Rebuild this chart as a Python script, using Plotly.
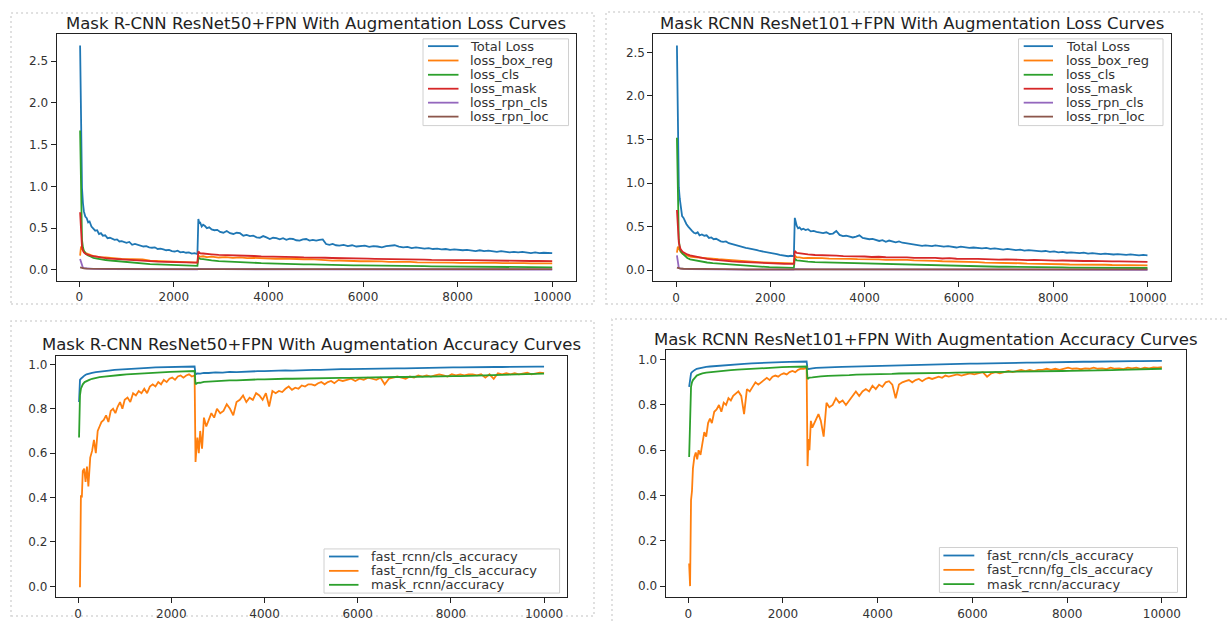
import plotly.graph_objects as go

FIG_W, FIG_H = 1230, 621
FONT = "DejaVu Sans"

# ---------------------------------------------------------------------------
# Iteration grids (logged steps); training restarts from a checkpoint at 2500
# ---------------------------------------------------------------------------
ITER_FINE_A = [19, 39, 59, 79, 99, 129, 159, 189, 219, 259,
               299, 339, 379, 419, 459, 499, 549, 599, 649, 699,
               749, 799, 849, 899, 949, 999, 1059, 1119, 1179, 1239,
               1299, 1359, 1419, 1479, 1539, 1599, 1659, 1719, 1779, 1839,
               1899, 1959, 2019, 2079, 2139, 2199, 2259, 2319, 2379, 2439,
               2499]
ITER_FINE_B = [2519, 2539, 2559, 2589, 2619, 2659, 2699, 2749, 2799, 2859,
               2919, 2979, 3049, 3119, 3189, 3259, 3329, 3399, 3469, 3539,
               3609, 3679, 3749, 3819, 3889, 3959, 4029, 4099, 4169, 4239,
               4309, 4379, 4449, 4519, 4589, 4659, 4729, 4799, 4869, 4939,
               5009, 5079, 5149, 5219, 5289, 5359, 5429, 5499, 5589, 5679,
               5769, 5859, 5949, 6039, 6129, 6219, 6309, 6399, 6489, 6579,
               6669, 6759, 6849, 6939, 7029, 7119, 7209, 7299, 7389, 7479,
               7569, 7659, 7749, 7839, 7929, 8019, 8109, 8199, 8289, 8379,
               8469, 8559, 8649, 8739, 8829, 8919, 9009, 9099, 9189, 9279,
               9369, 9459, 9549, 9639, 9729, 9819, 9909, 9999]
ITER_MED_A = [19, 39, 59, 79, 99, 139, 179, 239, 299, 379,
              459, 559, 659, 779, 899, 1039, 1179, 1339, 1499, 1659,
              1819, 1979, 2139, 2299, 2499]
ITER_MED_B = [2519, 2559, 2619, 2699, 2799, 2949, 3099, 3249, 3399, 3549,
              3699, 3849, 3999, 4149, 4299, 4449, 4599, 4749, 4899, 5049,
              5199, 5349, 5499, 5649, 5799, 5949, 6099, 6249, 6399, 6549,
              6699, 6849, 6999, 7149, 7299, 7449, 7599, 7749, 7899, 8049,
              8199, 8349, 8499, 8649, 8799, 8949, 9099, 9249, 9399, 9549,
              9699, 9849, 9999]
ITER_RPN = [19, 39, 59, 79, 99, 159, 299, 599, 999, 1499, 2499,
            2519, 2999, 4999, 7499, 9999]

# ---------------------------------------------------------------------------
# ResNet50 + FPN losses
# ---------------------------------------------------------------------------
r50_total_a = [2.69, 1.62, 0.98, 0.80, 0.70, 0.64, 0.62, 0.57, 0.58, 0.52,
               0.50, 0.47, 0.475, 0.43, 0.44, 0.41, 0.415, 0.38, 0.385, 0.37,
               0.36, 0.365, 0.34, 0.345, 0.33, 0.325, 0.335, 0.30, 0.31, 0.30,
               0.29, 0.28, 0.285, 0.27, 0.265, 0.27, 0.25, 0.255, 0.245, 0.235,
               0.24, 0.225, 0.22, 0.23, 0.21, 0.215, 0.205, 0.21, 0.195, 0.20,
               0.19]
r50_total_b = [0.61, 0.56, 0.565, 0.52, 0.54, 0.525, 0.50, 0.51, 0.485, 0.475,
               0.48, 0.455, 0.445, 0.465, 0.44, 0.43, 0.445, 0.44, 0.41, 0.42,
               0.405, 0.41, 0.39, 0.385, 0.405, 0.39, 0.37, 0.385, 0.38, 0.365,
               0.38, 0.36, 0.375, 0.37, 0.355, 0.35, 0.365, 0.37, 0.35, 0.36,
               0.35, 0.36, 0.365, 0.31, 0.30, 0.31, 0.295, 0.29, 0.30, 0.285,
               0.295, 0.28, 0.285, 0.29, 0.275, 0.285, 0.28, 0.27, 0.285, 0.29,
               0.295, 0.28, 0.27, 0.275, 0.26, 0.27, 0.265, 0.255, 0.26, 0.25,
               0.255, 0.245, 0.25, 0.24, 0.245, 0.24, 0.235, 0.24, 0.23, 0.225,
               0.235, 0.225, 0.23, 0.22, 0.215, 0.225, 0.22, 0.21, 0.215, 0.21,
               0.215, 0.205, 0.20, 0.21, 0.20, 0.205, 0.20, 0.20]
r50_box_a = [0.17, 0.28, 0.26, 0.23, 0.22, 0.20, 0.19, 0.175, 0.165, 0.16,
             0.15, 0.148, 0.14, 0.137, 0.13, 0.128, 0.12, 0.124, 0.11, 0.107,
             0.10, 0.097, 0.093, 0.091, 0.088]
r50_box_b = [0.17, 0.158, 0.163, 0.152, 0.158, 0.148, 0.152, 0.144, 0.149, 0.14,
             0.143, 0.138, 0.14, 0.133, 0.136, 0.13, 0.131, 0.127, 0.128, 0.121,
             0.116, 0.111, 0.112, 0.106, 0.108, 0.103, 0.105, 0.099, 0.101, 0.097,
             0.098, 0.094, 0.095, 0.091, 0.092, 0.089, 0.09, 0.087, 0.088, 0.085,
             0.086, 0.083, 0.085, 0.081, 0.083, 0.08, 0.082, 0.079, 0.08, 0.078,
             0.079, 0.077, 0.077]
r50_cls_a = [1.67, 0.72, 0.36, 0.27, 0.23, 0.195, 0.175, 0.16, 0.145, 0.135,
             0.125, 0.118, 0.112, 0.105, 0.097, 0.09, 0.083, 0.077, 0.07, 0.065,
             0.06, 0.056, 0.053, 0.05, 0.048]
r50_cls_b = [0.15, 0.132, 0.128, 0.118, 0.114, 0.105, 0.1, 0.094, 0.091, 0.087,
             0.085, 0.081, 0.079, 0.075, 0.074, 0.07, 0.069, 0.066, 0.065, 0.062,
             0.061, 0.059, 0.058, 0.056, 0.055, 0.053, 0.053, 0.051, 0.05, 0.049,
             0.048, 0.047, 0.046, 0.045, 0.044, 0.043, 0.042, 0.041, 0.041, 0.04,
             0.039, 0.038, 0.038, 0.037, 0.036, 0.035, 0.035, 0.034, 0.033, 0.032,
             0.032, 0.031, 0.03]
r50_mask_a = [0.69, 0.42, 0.27, 0.23, 0.21, 0.19, 0.18, 0.17, 0.165, 0.155,
              0.15, 0.14, 0.135, 0.13, 0.125, 0.12, 0.115, 0.11, 0.105, 0.10,
              0.097, 0.095, 0.092, 0.09, 0.088]
r50_mask_b = [0.22, 0.198, 0.196, 0.188, 0.186, 0.179, 0.178, 0.171, 0.17, 0.166,
              0.166, 0.161, 0.161, 0.156, 0.158, 0.153, 0.153, 0.149, 0.15, 0.147,
              0.145, 0.142, 0.142, 0.137, 0.138, 0.134, 0.134, 0.131, 0.131, 0.128,
              0.128, 0.125, 0.126, 0.123, 0.123, 0.12, 0.121, 0.118, 0.118, 0.116,
              0.116, 0.114, 0.114, 0.112, 0.112, 0.11, 0.11, 0.108, 0.108, 0.106,
              0.106, 0.105, 0.105]
r50_rpn_cls = [0.13, 0.09, 0.04, 0.025, 0.02, 0.015, 0.012, 0.01, 0.008, 0.007, 0.006,
               0.012, 0.008, 0.006, 0.005, 0.004]
r50_rpn_loc = [0.03, 0.025, 0.022, 0.02, 0.018, 0.016, 0.014, 0.012, 0.011, 0.01, 0.009,
               0.014, 0.012, 0.01, 0.009, 0.008]

# ---------------------------------------------------------------------------
# ResNet101 + FPN losses
# ---------------------------------------------------------------------------
r101_total_a = [2.58, 1.45, 0.95, 0.82, 0.72, 0.62, 0.60, 0.56, 0.53, 0.50,
                0.47, 0.45, 0.43, 0.42, 0.435, 0.40, 0.41, 0.395, 0.40, 0.37,
                0.375, 0.355, 0.36, 0.34, 0.33, 0.325, 0.33, 0.31, 0.30, 0.295,
                0.28, 0.27, 0.265, 0.255, 0.25, 0.245, 0.235, 0.23, 0.22, 0.215,
                0.21, 0.20, 0.195, 0.19, 0.185, 0.175, 0.17, 0.165, 0.16, 0.165,
                0.16]
r101_total_b = [0.60, 0.54, 0.51, 0.48, 0.49, 0.465, 0.475, 0.46, 0.47, 0.445,
                0.45, 0.44, 0.43, 0.425, 0.435, 0.415, 0.42, 0.45, 0.405, 0.39,
                0.395, 0.385, 0.375, 0.385, 0.40, 0.37, 0.365, 0.355, 0.36, 0.345,
                0.335, 0.345, 0.325, 0.34, 0.33, 0.32, 0.33, 0.315, 0.31, 0.305,
                0.30, 0.295, 0.29, 0.28, 0.285, 0.28, 0.275, 0.285, 0.275, 0.27,
                0.275, 0.27, 0.26, 0.27, 0.265, 0.255, 0.26, 0.255, 0.25, 0.255,
                0.245, 0.25, 0.24, 0.235, 0.245, 0.235, 0.23, 0.235, 0.225, 0.23,
                0.225, 0.22, 0.215, 0.22, 0.21, 0.215, 0.205, 0.21, 0.20, 0.205,
                0.20, 0.195, 0.20, 0.19, 0.195, 0.19, 0.185, 0.19, 0.185, 0.18,
                0.185, 0.18, 0.175, 0.18, 0.175, 0.17, 0.175, 0.17]
r101_box_a = [0.20, 0.27, 0.25, 0.22, 0.21, 0.19, 0.18, 0.165, 0.155, 0.15,
              0.145, 0.142, 0.135, 0.132, 0.125, 0.122, 0.115, 0.11, 0.10, 0.096,
              0.09, 0.086, 0.082, 0.08, 0.078]
r101_box_b = [0.165, 0.148, 0.146, 0.139, 0.141, 0.135, 0.137, 0.132, 0.134, 0.128,
              0.13, 0.126, 0.127, 0.122, 0.124, 0.119, 0.12, 0.116, 0.117, 0.112,
              0.112, 0.107, 0.107, 0.102, 0.101, 0.097, 0.097, 0.092, 0.092, 0.087,
              0.087, 0.083, 0.083, 0.079, 0.079, 0.075, 0.075, 0.071, 0.071, 0.068,
              0.068, 0.065, 0.066, 0.063, 0.064, 0.061, 0.062, 0.059, 0.06, 0.057,
              0.058, 0.056, 0.056]
r101_cls_a = [1.52, 0.70, 0.35, 0.26, 0.22, 0.19, 0.165, 0.14, 0.125, 0.115,
              0.105, 0.095, 0.088, 0.08, 0.075, 0.068, 0.06, 0.055, 0.048, 0.042,
              0.038, 0.034, 0.031, 0.028, 0.027]
r101_cls_b = [0.13, 0.113, 0.109, 0.102, 0.099, 0.093, 0.091, 0.086, 0.084, 0.08,
              0.079, 0.075, 0.074, 0.07, 0.069, 0.065, 0.064, 0.061, 0.06, 0.057,
              0.056, 0.053, 0.052, 0.049, 0.049, 0.046, 0.046, 0.043, 0.043, 0.041,
              0.041, 0.039, 0.039, 0.037, 0.037, 0.035, 0.035, 0.033, 0.033, 0.031,
              0.031, 0.03, 0.03, 0.029, 0.029, 0.028, 0.028, 0.027, 0.027, 0.026,
              0.026, 0.025, 0.025]
r101_mask_a = [0.69, 0.50, 0.32, 0.27, 0.24, 0.21, 0.195, 0.18, 0.17, 0.16,
               0.15, 0.14, 0.13, 0.12, 0.112, 0.105, 0.10, 0.095, 0.09, 0.085,
               0.08, 0.078, 0.075, 0.073, 0.072]
r101_mask_b = [0.22, 0.198, 0.193, 0.184, 0.182, 0.174, 0.174, 0.167, 0.167, 0.161,
               0.162, 0.156, 0.157, 0.151, 0.154, 0.148, 0.15, 0.145, 0.147, 0.141,
               0.143, 0.138, 0.14, 0.134, 0.137, 0.131, 0.134, 0.129, 0.13, 0.125,
               0.127, 0.122, 0.124, 0.119, 0.12, 0.116, 0.117, 0.113, 0.114, 0.11,
               0.111, 0.107, 0.109, 0.105, 0.106, 0.102, 0.103, 0.1, 0.101, 0.098,
               0.099, 0.096, 0.095]
r101_rpn_cls = [0.17, 0.06, 0.025, 0.02, 0.017, 0.014, 0.011, 0.009, 0.008, 0.007, 0.006,
                0.011, 0.008, 0.006, 0.005, 0.004]
r101_rpn_loc = [0.03, 0.026, 0.022, 0.02, 0.018, 0.016, 0.014, 0.012, 0.011, 0.01, 0.009,
                0.013, 0.011, 0.01, 0.009, 0.008]

# ---------------------------------------------------------------------------
# ResNet50 + FPN accuracies
# ---------------------------------------------------------------------------
r50_cls_acc_a = [0.83, 0.93, 0.935, 0.94, 0.945, 0.95, 0.955, 0.96, 0.962, 0.965,
                 0.968, 0.97, 0.972, 0.975, 0.977, 0.978, 0.98, 0.982, 0.984, 0.986,
                 0.987, 0.988, 0.988, 0.989, 0.99]
r50_cls_acc_b = [0.955, 0.959, 0.958, 0.961, 0.961, 0.964, 0.963, 0.966, 0.965, 0.967,
                 0.967, 0.969, 0.969, 0.971, 0.97, 0.973, 0.972, 0.974, 0.973, 0.975,
                 0.975, 0.977, 0.976, 0.978, 0.978, 0.979, 0.979, 0.98, 0.98, 0.981,
                 0.981, 0.982, 0.982, 0.983, 0.983, 0.984, 0.984, 0.985, 0.985, 0.986,
                 0.986, 0.987, 0.987, 0.987, 0.988, 0.988, 0.988, 0.989, 0.989, 0.989,
                 0.99, 0.99, 0.99]
r50_fg_acc_a = [0.0, 0.0, 0.41, 0.40, 0.52, 0.53, 0.47, 0.54, 0.45, 0.58,
                0.61, 0.66, 0.60, 0.70, 0.72, 0.74, 0.75, 0.77, 0.74, 0.79,
                0.80, 0.78, 0.81, 0.83, 0.80, 0.84, 0.85, 0.83, 0.87, 0.86,
                0.88, 0.87, 0.89, 0.87, 0.90, 0.91, 0.90, 0.92, 0.91, 0.93,
                0.92, 0.935, 0.94, 0.93, 0.945, 0.95, 0.94, 0.95, 0.955, 0.945,
                0.95]
r50_fg_acc_b = [0.56, 0.62, 0.67, 0.60, 0.70, 0.62, 0.76, 0.72, 0.75, 0.78,
                0.76, 0.80, 0.78, 0.79, 0.82, 0.80, 0.77, 0.83, 0.84, 0.86,
                0.83, 0.85, 0.84, 0.87, 0.86, 0.84, 0.87, 0.81, 0.88, 0.87,
                0.88, 0.875, 0.89, 0.90, 0.885, 0.895, 0.89, 0.905, 0.90, 0.91,
                0.91, 0.905, 0.915, 0.92, 0.91, 0.92, 0.925, 0.915, 0.93, 0.925,
                0.93, 0.935, 0.925, 0.935, 0.93, 0.94, 0.935, 0.93, 0.94, 0.91,
                0.935, 0.94, 0.945, 0.94, 0.935, 0.945, 0.94, 0.95, 0.945, 0.95,
                0.945, 0.95, 0.955, 0.95, 0.945, 0.955, 0.95, 0.955, 0.95, 0.955,
                0.955, 0.95, 0.955, 0.94, 0.955, 0.935, 0.96, 0.955, 0.96, 0.955,
                0.96, 0.955, 0.96, 0.962, 0.955, 0.96, 0.963, 0.96]
r50_mask_acc_a = [0.67, 0.86, 0.89, 0.90, 0.91, 0.92, 0.925, 0.93, 0.935, 0.94,
                  0.942, 0.945, 0.948, 0.95, 0.952, 0.955, 0.957, 0.96, 0.962, 0.963,
                  0.965, 0.966, 0.967, 0.968, 0.97]
r50_mask_acc_b = [0.91, 0.916, 0.917, 0.921, 0.922, 0.925, 0.925, 0.928, 0.928, 0.93,
                  0.931, 0.932, 0.932, 0.934, 0.934, 0.935, 0.935, 0.936, 0.936, 0.937,
                  0.937, 0.938, 0.938, 0.939, 0.939, 0.94, 0.94, 0.941, 0.941, 0.942,
                  0.942, 0.943, 0.943, 0.944, 0.944, 0.945, 0.945, 0.946, 0.946, 0.947,
                  0.947, 0.948, 0.949, 0.95, 0.95, 0.951, 0.952, 0.953, 0.954, 0.955,
                  0.956, 0.957, 0.958]

# ---------------------------------------------------------------------------
# ResNet101 + FPN accuracies
# ---------------------------------------------------------------------------
r101_cls_acc_a = [0.88, 0.92, 0.94, 0.945, 0.95, 0.955, 0.96, 0.963, 0.966, 0.968,
                  0.97, 0.972, 0.974, 0.976, 0.978, 0.98, 0.982, 0.984, 0.986, 0.987,
                  0.988, 0.989, 0.99, 0.991, 0.992]
r101_cls_acc_b = [0.958, 0.961, 0.962, 0.964, 0.964, 0.966, 0.967, 0.968, 0.969, 0.97,
                  0.971, 0.972, 0.973, 0.974, 0.975, 0.976, 0.976, 0.977, 0.978, 0.979,
                  0.979, 0.98, 0.981, 0.982, 0.982, 0.983, 0.983, 0.984, 0.984, 0.985,
                  0.985, 0.986, 0.986, 0.987, 0.987, 0.988, 0.988, 0.989, 0.989, 0.99,
                  0.99, 0.991, 0.991, 0.992, 0.992, 0.993, 0.993, 0.993, 0.994, 0.994,
                  0.994, 0.995, 0.995]
r101_fg_acc_a = [0.10, 0.0, 0.38, 0.42, 0.52, 0.57, 0.59, 0.56, 0.60, 0.58,
                 0.63, 0.68, 0.66, 0.72, 0.74, 0.72, 0.77, 0.78, 0.80, 0.77,
                 0.81, 0.80, 0.83, 0.82, 0.84, 0.85, 0.86, 0.84, 0.76, 0.87,
                 0.86, 0.88, 0.90, 0.89, 0.90, 0.91, 0.92, 0.91, 0.925, 0.93,
                 0.925, 0.935, 0.94, 0.935, 0.945, 0.95, 0.945, 0.955, 0.96, 0.96,
                 0.965]
r101_fg_acc_b = [0.53, 0.65, 0.60, 0.73, 0.70, 0.72, 0.74, 0.76, 0.73, 0.66,
                 0.81, 0.79, 0.80, 0.83, 0.81, 0.82, 0.80, 0.82, 0.84, 0.86,
                 0.84, 0.86, 0.87, 0.86, 0.885, 0.87, 0.89, 0.88, 0.90, 0.905,
                 0.89, 0.83, 0.89, 0.90, 0.905, 0.91, 0.90, 0.91, 0.915, 0.905,
                 0.915, 0.92, 0.915, 0.92, 0.925, 0.92, 0.93, 0.925, 0.93, 0.935,
                 0.93, 0.935, 0.94, 0.935, 0.94, 0.945, 0.925, 0.94, 0.945, 0.94,
                 0.945, 0.95, 0.945, 0.95, 0.955, 0.95, 0.955, 0.95, 0.955, 0.955,
                 0.96, 0.955, 0.96, 0.955, 0.96, 0.965, 0.96, 0.962, 0.958, 0.962,
                 0.96, 0.965, 0.96, 0.962, 0.958, 0.965, 0.96, 0.962, 0.958, 0.965,
                 0.962, 0.965, 0.96, 0.965, 0.962, 0.966, 0.965, 0.967]
r101_mask_acc_a = [0.57, 0.78, 0.88, 0.90, 0.91, 0.92, 0.93, 0.935, 0.94, 0.943,
                   0.945, 0.947, 0.95, 0.952, 0.954, 0.956, 0.958, 0.96, 0.962, 0.964,
                   0.966, 0.967, 0.968, 0.969, 0.97]
r101_mask_acc_b = [0.915, 0.921, 0.922, 0.925, 0.926, 0.929, 0.929, 0.932, 0.932, 0.934,
                   0.934, 0.936, 0.936, 0.937, 0.937, 0.939, 0.939, 0.94, 0.94, 0.941,
                   0.941, 0.942, 0.942, 0.943, 0.943, 0.944, 0.944, 0.945, 0.945, 0.946,
                   0.946, 0.947, 0.947, 0.948, 0.948, 0.949, 0.949, 0.95, 0.95, 0.951,
                   0.951, 0.952, 0.953, 0.953, 0.954, 0.954, 0.955, 0.956, 0.957, 0.957,
                   0.958, 0.959, 0.96]

X_TICKS = [0, 2000, 4000, 6000, 8000, 10000]
LOSS_TICKS = [0.0, 0.5, 1.0, 1.5, 2.0, 2.5]
ACC_TICKS = [0.0, 0.2, 0.4, 0.6, 0.8, 1.0]

BLUE, ORANGE, GREEN, RED, PURPLE, BROWN = (
    "#1f77b4", "#ff7f0e", "#2ca02c", "#d62728", "#9467bd", "#8c564b")

fine = ITER_FINE_A + ITER_FINE_B
med = ITER_MED_A + ITER_MED_B

panels = [
    dict(
        title="Mask R-CNN ResNet50+FPN With Augmentation Loss Curves",
        frame=(56.5, 34.3, 575.8, 282.0), title_y=24,
        yrange=[-0.1345, 2.8245], yticks=LOSS_TICKS,
        series=[
            ("Total Loss", fine, r50_total_a + r50_total_b, BLUE),
            ("loss_box_reg", med, r50_box_a + r50_box_b, ORANGE),
            ("loss_cls", med, r50_cls_a + r50_cls_b, GREEN),
            ("loss_mask", med, r50_mask_a + r50_mask_b, RED),
            ("loss_rpn_cls", ITER_RPN, r50_rpn_cls, PURPLE),
            ("loss_rpn_loc", ITER_RPN, r50_rpn_loc, BROWN),
        ],
        legend=dict(box=(423, 39, 568.5, 126), line=(428, 458.5), text_x=468,
                    rows=[46.3, 60.7, 75.0, 89.0, 103.0, 117.0]),
    ),
    dict(
        title="Mask RCNN ResNet101+FPN With Augmentation Loss Curves",
        frame=(653.4, 34.3, 1171.0, 282.3), title_y=24,
        yrange=[-0.129, 2.709], yticks=LOSS_TICKS,
        series=[
            ("Total Loss", fine, r101_total_a + r101_total_b, BLUE),
            ("loss_box_reg", med, r101_box_a + r101_box_b, ORANGE),
            ("loss_cls", med, r101_cls_a + r101_cls_b, GREEN),
            ("loss_mask", med, r101_mask_a + r101_mask_b, RED),
            ("loss_rpn_cls", ITER_RPN, r101_rpn_cls, PURPLE),
            ("loss_rpn_loc", ITER_RPN, r101_rpn_loc, BROWN),
        ],
        legend=dict(box=(1018.5, 39, 1163, 126), line=(1023.7, 1053), text_x=1063.5,
                    rows=[46.3, 60.7, 75.0, 89.0, 103.0, 117.0]),
    ),
    dict(
        title="Mask R-CNN ResNet50+FPN With Augmentation Accuracy Curves",
        frame=(55.8, 356.7, 567.3, 599.3), title_y=346,
        yrange=[-0.0495, 1.0395], yticks=ACC_TICKS,
        series=[
            ("fast_rcnn/cls_accuracy", med, r50_cls_acc_a + r50_cls_acc_b, BLUE),
            ("fast_rcnn/fg_cls_accuracy", fine, r50_fg_acc_a + r50_fg_acc_b, ORANGE),
            ("mask_rcnn/accuracy", med, r50_mask_acc_a + r50_mask_acc_b, GREEN),
        ],
        legend=dict(box=(324, 550.7, 559.6, 595), line=(329, 358.5), text_x=369,
                    rows=[558.3, 572.7, 586.7]),
    ),
    dict(
        title="Mask RCNN ResNet101+FPN With Augmentation Accuracy Curves",
        frame=(665.5, 350.7, 1185.5, 599.3), title_y=340.7,
        yrange=[-0.04975, 1.04475], yticks=ACC_TICKS,
        series=[
            ("fast_rcnn/cls_accuracy", med, r101_cls_acc_a + r101_cls_acc_b, BLUE),
            ("fast_rcnn/fg_cls_accuracy", fine, r101_fg_acc_a + r101_fg_acc_b, ORANGE),
            ("mask_rcnn/accuracy", med, r101_mask_acc_a + r101_mask_acc_b, GREEN),
        ],
        legend=dict(box=(939.4, 549.3, 1177.5, 594.3), line=(943.4, 974.3), text_x=984.5,
                    rows=[557.3, 571.7, 586.0]),
    ),
]

# dotted frames around each saved sub-figure
PANEL_BORDERS = [(11, 13, 594, 305), (606, 12, 1202, 305),
                 (11, 322, 594, 618), (612, 320, 1240, 630)]


def fx(px):
    return px / FIG_W


def fy(py):
    return 1 - py / FIG_H


fig = go.Figure()
shapes, annotations = [], []
layout_axes = {}

for i, p in enumerate(panels, start=1):
    suffix = "" if i == 1 else str(i)
    x0, y0, x1, y1 = p["frame"]
    for name, xs, ys, color in p["series"]:
        fig.add_trace(go.Scatter(
            x=xs, y=ys, name=name, mode="lines",
            line=dict(color=color, width=1.8),
            xaxis="x" + suffix, yaxis="y" + suffix, showlegend=False,
        ))
    axis_common = dict(
        showgrid=False, zeroline=False, showline=True, mirror=True,
        linecolor="#222", linewidth=1, ticks="outside", ticklen=5,
        tickcolor="#222", tickwidth=1,
        tickfont=dict(family=FONT, size=12, color="#333"),
    )
    layout_axes["xaxis" + suffix] = dict(
        axis_common, domain=[fx(x0), fx(x1)], anchor="y" + suffix,
        range=[-480, 10498], tickvals=X_TICKS,
        ticktext=[str(v) for v in X_TICKS],
    )
    layout_axes["yaxis" + suffix] = dict(
        axis_common, domain=[fy(y1), fy(y0)], anchor="x" + suffix,
        range=p["yrange"], tickvals=p["yticks"],
        ticktext=["%.1f" % v for v in p["yticks"]],
    )
    annotations.append(dict(
        text=p["title"], xref="paper", yref="paper",
        x=fx((x0 + x1) / 2), y=fy(p["title_y"]),
        xanchor="center", yanchor="middle", showarrow=False,
        font=dict(family=FONT, size=16.5, color="#222"),
    ))

    # legend drawn as a framed box with line samples
    lg = p["legend"]
    bx0, by0, bx1, by1 = lg["box"]
    shapes.append(dict(
        type="rect", xref="paper", yref="paper",
        x0=fx(bx0), x1=fx(bx1), y0=fy(by1), y1=fy(by0),
        line=dict(color="#d0d0d0", width=1), fillcolor="rgba(255,255,255,0.85)",
        layer="above",
    ))
    for (name, _, _, color), ry in zip(p["series"], lg["rows"]):
        shapes.append(dict(
            type="line", xref="paper", yref="paper",
            x0=fx(lg["line"][0]), x1=fx(lg["line"][1]), y0=fy(ry), y1=fy(ry),
            line=dict(color=color, width=1.8), layer="above",
        ))
        annotations.append(dict(
            text=name, xref="paper", yref="paper", x=fx(lg["text_x"]), y=fy(ry),
            xanchor="left", yanchor="middle", showarrow=False,
            font=dict(family=FONT, size=13, color="#333"),
        ))

for bx0, by0, bx1, by1 in PANEL_BORDERS:
    shapes.append(dict(
        type="rect", xref="paper", yref="paper",
        x0=fx(bx0), x1=fx(bx1), y0=fy(by1), y1=fy(by0),
        line=dict(color="#d6d6d6", width=1.5, dash="2px,3px"),
        fillcolor="rgba(0,0,0,0)", layer="below",
    ))

fig.update_layout(
    width=FIG_W, height=FIG_H,
    margin=dict(l=0, r=0, t=0, b=0),
    paper_bgcolor="white", plot_bgcolor="white",
    showlegend=False, shapes=shapes, annotations=annotations,
    **layout_axes,
)

fig.write_html("out.html")
